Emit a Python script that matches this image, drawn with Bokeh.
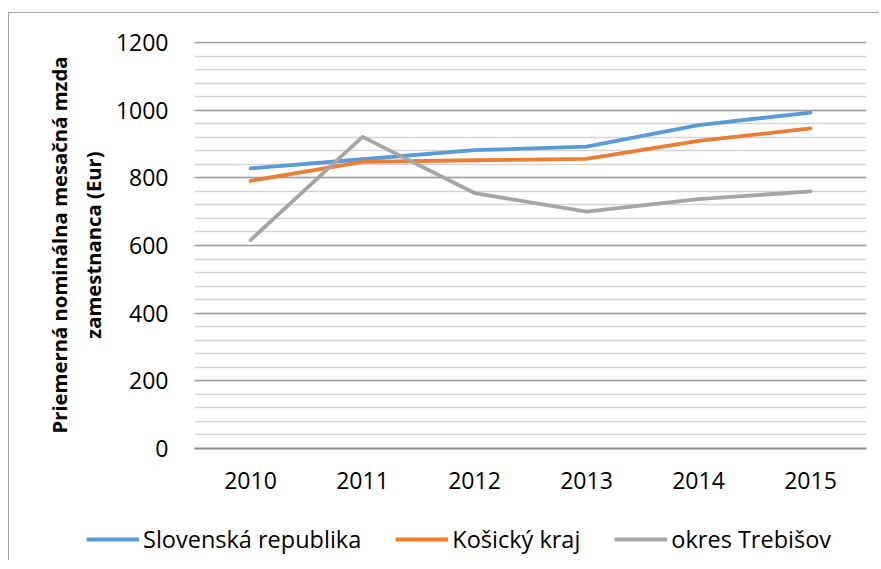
import math
from bokeh.plotting import figure
from bokeh.models import Range1d, Legend, LegendItem, FixedTicker
from bokeh.embed import file_html
from bokeh.resources import INLINE

years = ["2010", "2011", "2012", "2013", "2014", "2015"]
slovensko = [828, 855, 882, 892, 956, 993]
kosice = [791, 847, 852, 856, 909, 946]
trebisov = [616, 921, 755, 700, 737, 760]
series_names = ["Slovenská republika", "Košický kraj", "okres Trebišov"]
colors = ["#5B9BD5", "#ED7D31", "#A5A5A5"]
y_ticks = [0, 200, 400, 600, 800, 1000, 1200]
y_title_lines = ["Priemerná nominálna mesačná mzda", "zamestnanca (Eur)"]

FONT = "Open Sans"
W = 871

p = figure(x_range=years, y_range=Range1d(0, 1203), width=W, height=505,
           output_backend="svg", toolbar_location=None,
           min_border_left=185, min_border_right=14, min_border_top=28, min_border_bottom=70)
p.styles = {"border-top": "1px solid #A6A6A6", "border-left": "1px solid #A6A6A6",
            "margin-top": "12px", "margin-left": "8px"}
p.outline_line_color = None
p.x_range.range_padding = 0

series = [slovensko, kosice, trebisov]
for vals, c in zip(series, colors):
    p.line(years, vals, line_color=c, line_width=3.8, line_cap="round", line_join="round")

# grid
p.xgrid.grid_line_color = None
p.ygrid.ticker = FixedTicker(ticks=y_ticks, minor_ticks=list(range(0, 1201, 40)))
p.ygrid.grid_line_color = "#A0A0A0"
p.ygrid.grid_line_width = 1.5
p.ygrid.minor_grid_line_color = "#D4D4D4"
p.ygrid.minor_grid_line_width = 1.5

# y axis
p.yaxis.ticker = FixedTicker(ticks=y_ticks)
p.yaxis.axis_line_color = None
p.yaxis.major_tick_line_color = None
p.yaxis.minor_tick_line_color = None
p.yaxis.major_tick_out = 0
p.yaxis.minor_tick_out = 0
p.yaxis.major_label_standoff = 26
p.yaxis.major_label_text_font = FONT
p.yaxis.major_label_text_font_size = "23px"
p.yaxis.major_label_text_color = "#000000"
p.yaxis.axis_label = "\n".join(y_title_lines)
p.yaxis.axis_label_text_font = FONT
p.yaxis.axis_label_text_font_style = "bold"
p.yaxis.axis_label_text_font_size = "20.3px"
p.yaxis.axis_label_text_color = "#000000"
p.yaxis.axis_label_standoff = 6

# x axis
p.xaxis.axis_line_color = "#8C8C8C"
p.xaxis.axis_line_width = 2
p.xaxis.major_tick_line_color = None
p.xaxis.minor_tick_line_color = None
p.xaxis.major_tick_out = 0
p.xaxis.minor_tick_out = 0
p.xaxis.major_label_standoff = 23
p.xaxis.major_label_text_font = FONT
p.xaxis.major_label_text_font_size = "23px"
p.xaxis.major_label_text_color = "#000000"

# legend strip: separate root so the legend is not clipped by the plot frame
LH = 43
leg = figure(x_range=years, y_range=Range1d(2000, 3000), width=W, height=LH,
             output_backend="svg", toolbar_location=None,
             x_axis_location=None, y_axis_location=None,
             min_border=0, min_border_left=0, min_border_right=0, min_border_top=0, min_border_bottom=0)
leg.styles = {"border-left": "1px solid #A6A6A6", "margin-left": "8px"}
leg.outline_line_color = None
leg.grid.visible = False
leg_renderers = []
for vals, c in zip(series, colors):
    leg_renderers.append(leg.line(years, vals, line_color=c, line_width=3.8))

legend = Legend(items=[LegendItem(label=n, renderers=[r]) for n, r in zip(series_names, leg_renderers)],
                orientation="horizontal", location=(77, 5),
                label_text_font=FONT, label_text_font_size="23.5px", label_text_color="#000000",
                glyph_width=53, glyph_height=20, label_standoff=4, spacing=34,
                padding=0, margin=0, border_line_color=None, background_fill_alpha=0)
leg.add_layout(legend)

open("out.html", "w").write(file_html([p, leg], INLINE))
